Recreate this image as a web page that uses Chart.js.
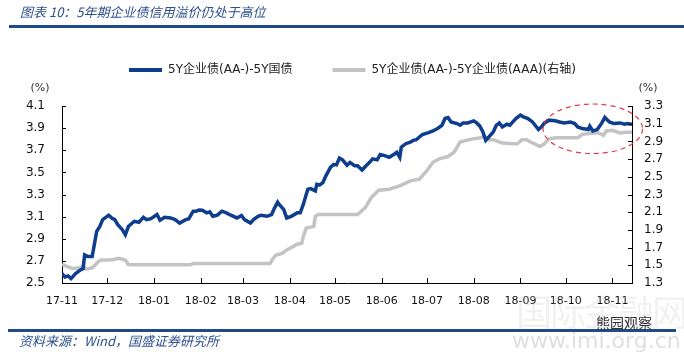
<!DOCTYPE html>
<html><head><meta charset="utf-8">
<script src="https://cdn.jsdelivr.net/npm/chart.js@4/dist/chart.umd.min.js"></script>
<style>
html,body{margin:0;padding:0;background:#fff;}
#wrap{position:relative;width:684px;height:356px;overflow:hidden;background:#fff;}
#c{position:absolute;left:0;top:0;}
.title{position:absolute;left:20px;top:3px;font:italic 13px 'Noto Sans CJK SC',sans-serif;color:#2E4F8F;white-space:nowrap;line-height:18px;}
.rule1{position:absolute;left:9px;top:25px;width:675px;height:3px;background:#1F4B8A;}
.rule2{position:absolute;left:8px;top:329px;width:668px;height:3px;background:#1F4B8A;}
.src{position:absolute;left:19px;top:332px;font:italic 13px 'Noto Sans CJK SC',sans-serif;color:#2E4F8F;white-space:nowrap;line-height:17px;}
.wm1{position:absolute;left:516px;top:284px;font:36px 'Noto Sans CJK SC',sans-serif;color:rgba(200,200,200,0.25);white-space:nowrap;letter-spacing:-2px;}
.wm2{position:absolute;left:596px;top:312px;font:14px 'Noto Sans CJK SC',sans-serif;color:#333;white-space:nowrap;}
.wm3{position:absolute;left:512px;top:328px;font:22px 'DejaVu Sans',sans-serif;color:rgba(215,215,215,0.8);white-space:nowrap;}
</style>
</head><body>
<div id="wrap">
<canvas id="c" width="684" height="356"></canvas>
<div class="title">图表 10：5年期企业债信用溢价仍处于高位</div>
<div class="rule1"></div>
<div class="wm1">国际金融网</div>
<div class="rule2"></div>
<div class="src">资料来源：Wind，国盛证券研究所</div>
<div class="wm3">www.imi.org.cn</div>
<div class="wm2">熊园观察</div>
</div>
<script>
// ---- data (x = days since 2017-11-01) ----
const seriesNames = ['5Y企业债(AA-)-5Y国债', '5Y企业债(AA-)-5Y企业债(AAA)(右轴)'];
const monthLabels = ['17-11','17-12','18-01','18-02','18-03','18-04','18-05','18-06','18-07','18-08','18-09','18-10','18-11'];
const monthDays   = [0,30,61,92,120,151,181,212,242,273,304,334,365];
const leftTicks  = [2.5,2.7,2.9,3.1,3.3,3.5,3.7,3.9,4.1];
const rightTicks = [1.3,1.5,1.7,1.9,2.1,2.3,2.5,2.7,2.9,3.1,3.3];

const blueDays = [0,2,4,6,9,12,14,15,17,20,21,23,25,27,31,33,35,37,40,42,44,46,48,51,54,56,59,63,65,68,72,75,78,82,84,87,89,91,93,96,98,100,103,106,109,112,116,119,121,125,127,130,132,136,139,141,143,144,147,149,152,156,158,160,163,165,168,169,171,173,175,178,180,182,184,186,189,191,194,196,199,201,204,206,209,211,214,217,220,222,224,225,228,231,233,235,237,239,243,246,249,252,254,256,258,262,264,266,269,273,275,277,279,281,284,286,288,290,292,295,297,299,301,304,306,309,312,316,318,320,323,327,330,333,337,340,342,345,349,350,352,355,358,360,363,366,370,373,375,378];
const blueValues = [2.585,2.555,2.564,2.54,2.585,2.616,2.63,2.753,2.74,2.74,2.814,2.966,3.01,3.073,3.113,3.088,3.073,3.027,2.982,2.936,3.01,3.036,3.058,3.049,3.094,3.073,3.082,3.119,3.067,3.094,3.088,3.073,3.042,3.073,3.079,3.149,3.149,3.16,3.158,3.134,3.143,3.103,3.113,3.149,3.134,3.113,3.088,3.11,3.073,3.042,3.073,3.103,3.113,3.103,3.119,3.179,3.231,3.21,3.165,3.088,3.103,3.134,3.134,3.21,3.348,3.353,3.332,3.393,3.387,3.408,3.469,3.545,3.57,3.567,3.63,3.613,3.565,3.59,3.561,3.561,3.521,3.551,3.591,3.622,3.613,3.661,3.652,3.636,3.661,3.682,3.636,3.728,3.759,3.774,3.789,3.795,3.82,3.841,3.859,3.874,3.896,3.926,3.987,3.996,3.956,3.941,3.926,3.947,3.947,3.966,3.947,3.92,3.87,3.79,3.835,3.865,3.926,3.947,3.911,3.935,3.926,3.956,3.987,4.018,4.002,3.987,3.956,3.887,3.911,3.947,3.972,3.966,3.956,3.947,3.956,3.941,3.911,3.896,3.887,3.917,3.874,3.887,3.947,3.997,3.956,3.941,3.947,3.935,3.941,3.935];

const grayDays = [0,4,7,12,14,16,20,22,24,26,31,34,38,42,44,50,85,87,138,140,142,146,149,152,156,159,160,162,164,167,168,170,196,201,205,210,217,224,231,237,242,246,250,256,260,264,268,273,277,280,283,286,292,299,302,305,308,313,317,320,323,328,342,345,352,356,359,361,365,370,374,378];
const grayValues = [1.51,1.483,1.464,1.471,1.494,1.457,1.471,1.502,1.54,1.559,1.559,1.566,1.578,1.559,1.509,1.506,1.506,1.52,1.52,1.578,1.617,1.635,1.674,1.70,1.738,1.749,1.826,1.921,1.929,1.94,2.054,2.074,2.074,2.149,2.263,2.348,2.359,2.397,2.454,2.474,2.569,2.664,2.702,2.729,2.778,2.892,2.911,2.931,2.938,2.957,2.919,2.919,2.881,2.874,2.874,2.919,2.919,2.874,2.843,2.874,2.931,2.942,2.942,2.98,2.995,2.995,2.969,3.018,3.026,2.995,3.003,3.003];

// highlight ellipse (data units)
const highlight = {day: 352, value: 3.894, rDays: 33, rValue: 0.224};

const FONT = "'DejaVu Sans', 'Noto Sans CJK SC', sans-serif";
const pts = (xs, ys) => xs.map((x, i) => ({x, y: ys[i]}));

const innerTicks = {
  id: 'innerTicks',
  afterInit(chart) {
    const lg = chart.legend;
    if (lg) { const f = lg.fit; lg.fit = function(){ f.call(this); this.height += 20; }; }
  },
  afterDraw(chart) {
    const {ctx, chartArea: a, scales} = chart;
    ctx.save();
    ctx.strokeStyle = '#000'; ctx.lineWidth = 1;
    ctx.beginPath();
    monthDays.forEach((d, i) => { if (i === 0) return; const x = Math.round(scales.x.getPixelForValue(d)) + 0.5; ctx.moveTo(x, a.bottom); ctx.lineTo(x, a.bottom - 5); });
    leftTicks.forEach(v => { const y = Math.round(scales.y.getPixelForValue(v)) + 0.5; ctx.moveTo(a.left, y); ctx.lineTo(a.left + 4, y); });
    rightTicks.forEach(v => { const y = Math.round(scales.y1.getPixelForValue(v)) + 0.5; ctx.moveTo(a.right, y); ctx.lineTo(a.right - 4, y); });
    ctx.stroke();
    // units
    ctx.fillStyle = '#333'; ctx.font = '11px ' + FONT; ctx.textAlign = 'center'; ctx.textBaseline = 'middle';
    ctx.fillText('(%)', a.left - 22, a.top - 18);
    ctx.fillText('(%)', a.right + 16, a.top - 18);
    // highlight ellipse
    const cx = scales.x.getPixelForValue(highlight.day), cy = scales.y.getPixelForValue(highlight.value);
    const rx = scales.x.getPixelForValue(highlight.day + highlight.rDays) - cx;
    const ry = cy - scales.y.getPixelForValue(highlight.value + highlight.rValue);
    ctx.strokeStyle = '#E23B4A'; ctx.lineWidth = 1.2; ctx.setLineDash([5, 4]);
    ctx.beginPath(); ctx.ellipse(cx, cy, rx, ry, 0, 0, Math.PI * 2); ctx.stroke();
    ctx.restore();
  }
};

new Chart(document.getElementById('c'), {
  type: 'line',
  data: {
    datasets: [
      {label: seriesNames[0], data: pts(blueDays, blueValues), yAxisID: 'y', borderColor: '#0E3D8E', backgroundColor: '#0E3D8E', borderWidth: 3.5, pointRadius: 0, tension: 0, order: 1},
      {label: seriesNames[1], data: pts(grayDays, grayValues), yAxisID: 'y1', borderColor: '#C3C3C3', backgroundColor: '#C3C3C3', borderWidth: 3.5, pointRadius: 0, tension: 0, order: 2}
    ]
  },
  options: {
    responsive: false, animation: false, devicePixelRatio: 1,
    layout: {padding: {top: 24, bottom: 46, left: 21, right: 0}},
    plugins: {
      tooltip: {enabled: false},
      legend: {
        position: 'top',
        labels: {
          font: {family: FONT, size: 12}, color: '#222', boxWidth: 33, boxHeight: 4, padding: 40,
          generateLabels(chart) {
            return chart.data.datasets.map((ds, i) => ({text: ds.label, fillStyle: ds.borderColor, strokeStyle: ds.borderColor, lineWidth: 0, datasetIndex: i, fontColor: '#222'}));
          }
        }
      }
    },
    scales: {
      x: {
        type: 'linear', min: 0, max: 378,
        afterBuildTicks(s) { s.ticks = monthDays.map(v => ({value: v})); },
        afterFit(s) { s.height = 27; },
        ticks: {autoSkip: false, maxRotation: 0, padding: 12, color: '#111', font: {family: FONT, size: 11},
          callback: (v, i) => monthLabels[i]},
        grid: {display: true, drawOnChartArea: false, drawTicks: false},
        border: {display: true, color: '#000', width: 1}
      },
      y: {
        position: 'left', min: 2.5, max: 4.1,
        afterBuildTicks(s) { s.ticks = leftTicks.map(v => ({value: v})); },
        afterFit(s) { s.width = 41; },
        ticks: {padding: 17, color: '#111', font: {family: FONT, size: 12}, callback: v => v.toFixed(1)},
        grid: {display: true, drawOnChartArea: false, drawTicks: false},
        border: {display: true, color: '#000', width: 1}
      },
      y1: {
        position: 'right', min: 1.3, max: 3.3,
        afterBuildTicks(s) { s.ticks = rightTicks.map(v => ({value: v})); },
        afterFit(s) { s.width = 52; },
        ticks: {padding: 12, color: '#111', font: {family: FONT, size: 12}, callback: v => v.toFixed(1)},
        grid: {display: true, drawOnChartArea: false, drawTicks: false},
        border: {display: true, color: '#000', width: 1}
      }
    }
  },
  plugins: [innerTicks]
});
</script>
</body></html>
